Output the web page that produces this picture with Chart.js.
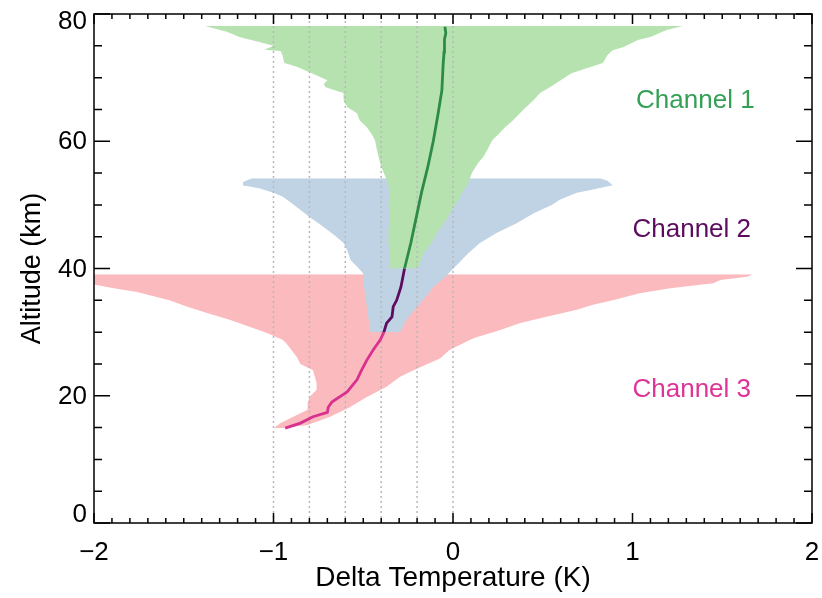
<!DOCTYPE html>
<html>
<head>
<meta charset="utf-8">
<title>Delta Temperature profiles</title>
<script src="https://cdn.jsdelivr.net/npm/chart.js@4.4.0/dist/chart.umd.min.js"></script>
<style>
  html, body { margin: 0; padding: 0; background: #fff; }
  #wrap { width: 822px; height: 598px; }
</style>
</head>
<body>
<div id="wrap"><canvas id="profileChart" width="822" height="598"></canvas></div>
<script>
// axis ticks and reference lines
const xTicks = [-2, -1, 0, 1, 2];
const yTicks = [0, 20, 40, 60, 80];
const refLines = [-1, -0.8, -0.6, -0.4, -0.2, 0];
const channelNames = ['Channel 1', 'Channel 2', 'Channel 3'];

// Channel 1 (40 - 78 km)
const ch1LoAlt = [40, 42, 44, 46, 48, 50, 52, 54, 56, 58.1, 60.2, 61, 62.2, 63.3, 64.4, 65.4, 66.5, 67.6, 68.5, 69, 69.6, 70.6, 71.7, 72.3, 73.5, 74.2, 74.4, 75, 75.6, 76.4, 77.2, 77.8, 78.1];
const ch1Lo    = [-0.355, -0.35, -0.36, -0.36, -0.35, -0.36, -0.35, -0.37, -0.40, -0.42, -0.435, -0.45, -0.48, -0.52, -0.535, -0.59, -0.61, -0.61, -0.71, -0.72, -0.70, -0.78, -0.87, -0.94, -0.95, -0.96, -1.05, -1.00, -1.08, -1.19, -1.26, -1.34, -1.38];
const ch1HiAlt = [40, 41.2, 42.4, 44, 45.6, 47.1, 48.7, 50.3, 51.9, 53.2, 54.2, 55, 56.6, 57.6, 58.6, 60.2, 61.3, 62.2, 63.3, 64.9, 66.5, 67.6, 68.5, 69.6, 70.7, 71.7, 72.3, 73.5, 74.3, 74.8, 75.9, 76.4, 77.5, 78.1];
const ch1Hi    = [-0.195, -0.18, -0.165, -0.12, -0.09, -0.05, -0.017, 0.02, 0.05, 0.08, 0.095, 0.105, 0.14, 0.17, 0.19, 0.22, 0.26, 0.29, 0.335, 0.39, 0.45, 0.485, 0.54, 0.60, 0.66, 0.77, 0.835, 0.86, 0.89, 0.95, 1.03, 1.10, 1.19, 1.28];
const ch1MeanAlt = [40, 44, 48, 52, 56, 60, 64, 68, 72, 74, 75, 76, 77, 78];
const ch1Mean    = [-0.27, -0.235, -0.205, -0.175, -0.14, -0.11, -0.085, -0.062, -0.055, -0.05, -0.045, -0.05, -0.04, -0.045];

// Channel 2 (30 - 54 km)
const ch2LoAlt = [30, 32, 34, 36, 38, 39.2, 40.3, 41.3, 42.9, 44, 45, 46.1, 47.1, 48.1, 49.2, 50.3, 51.3, 51.9, 52.6, 53.1, 53.6, 54.2];
const ch2Lo    = [-0.46, -0.47, -0.48, -0.49, -0.50, -0.50, -0.535, -0.57, -0.59, -0.61, -0.65, -0.70, -0.75, -0.80, -0.85, -0.90, -0.95, -1.0, -1.08, -1.175, -1.17, -1.12];
const ch2HiAlt = [30, 31.9, 33.3, 34.6, 36, 37.1, 38.5, 39.8, 40.8, 42.4, 44, 45.6, 47.1, 48.7, 50, 50.8, 51.9, 52.3, 53.1, 53.8, 54.2];
const ch2Hi    = [-0.295, -0.26, -0.22, -0.18, -0.14, -0.11, -0.05, -0.005, 0.03, 0.085, 0.15, 0.245, 0.355, 0.45, 0.55, 0.595, 0.69, 0.76, 0.89, 0.86, 0.82];
const ch2MeanAlt = [30, 31.4, 32.4, 34, 35, 37.1, 40];
const ch2Mean    = [-0.385, -0.37, -0.34, -0.333, -0.314, -0.29, -0.27];

// Channel 3 (15 - 39 km)
const ch3LoAlt = [14.9, 15.7, 16.7, 17.8, 18.8, 19.8, 20.9, 22, 24, 25, 26.1, 27.2, 28.3, 28.8, 29.9, 30.8, 31.9, 33, 34, 35, 35.8, 36.3, 36.9, 37.5, 38, 39.1];
const ch3Lo    = [-1.0, -0.96, -0.89, -0.81, -0.81, -0.80, -0.76, -0.76, -0.78, -0.85, -0.87, -0.90, -0.93, -0.95, -1.04, -1.13, -1.24, -1.37, -1.48, -1.58, -1.69, -1.76, -1.89, -2.0, -2.1, -2.1];
const ch3HiAlt = [14.9, 15.4, 16.7, 18.2, 19.8, 21.4, 23, 24, 25.9, 27.2, 28.3, 28.8, 29.2, 30.3, 31.4, 32.4, 33.5, 34.3, 35, 36.1, 36.9, 37.7, 38.2, 38.7, 39.1];
const ch3Hi    = [-0.96, -0.81, -0.685, -0.575, -0.48, -0.37, -0.295, -0.22, -0.07, -0.02, 0.06, 0.095, 0.13, 0.26, 0.37, 0.52, 0.69, 0.78, 0.89, 1.04, 1.21, 1.45, 1.49, 1.64, 1.67];
const ch3MeanAlt = [14.9, 15.7, 16.7, 17.4, 18.2, 19, 20.6, 22.5, 24, 25.6, 27.2, 28.8, 30];
const ch3Mean    = [-0.935, -0.85, -0.78, -0.70, -0.695, -0.675, -0.59, -0.535, -0.51, -0.48, -0.445, -0.405, -0.385];

const FONT = '"Liberation Sans", Arial, Helvetica, sans-serif';

function toPoints(xs, alts) {
    return xs.map((v, i) => ({ x: v, y: alts[i] }));
}

const datasets = [];

// mean profiles (on top)
function addMean(xs, alts, color) {
    datasets.push({
        data: toPoints(xs, alts), indexAxis: 'y',
        borderColor: color, borderWidth: 2.8, pointRadius: 0, fill: false, order: 0
    });
}
addMean(ch1Mean, ch1MeanAlt, '#2e8b47');
addMean(ch2Mean, ch2MeanAlt, '#5c0b5e');
addMean(ch3Mean, ch3MeanAlt, '#d9318f');

// dotted reference lines
refLines.forEach(v => {
    datasets.push({
        data: [{ x: v, y: 0 }, { x: v, y: 80 }], indexAxis: 'y',
        borderColor: '#b8b8b8', borderWidth: 1.5, borderDash: [2, 3],
        pointRadius: 0, fill: false, order: 1
    });
});

// spread envelopes: left edge filled to right edge
function addEnvelope(lo, loAlt, hi, hiAlt, color, order) {
    const idx = datasets.length;
    datasets.push({
        data: toPoints(lo, loAlt), indexAxis: 'y',
        borderWidth: 0, borderColor: 'transparent', pointRadius: 0,
        backgroundColor: color, fill: { target: idx + 1 }, order: order
    });
    datasets.push({
        data: toPoints(hi, hiAlt), indexAxis: 'y',
        borderWidth: 0, borderColor: 'transparent', pointRadius: 0,
        fill: false, order: order
    });
}
addEnvelope(ch1Lo, ch1LoAlt, ch1Hi, ch1HiAlt, '#b6e2b0', 2);
addEnvelope(ch2Lo, ch2LoAlt, ch2Hi, ch2HiAlt, '#c0d3e5', 3);
addEnvelope(ch3Lo, ch3LoAlt, ch3Hi, ch3HiAlt, '#fbbabd', 4);

// frame, inward ticks, y labels, channel labels
const framePlugin = {
    id: 'framePlugin',
    afterDraw(chart) {
        const { ctx, chartArea: a, scales: { x, y } } = chart;
        ctx.save();
        ctx.strokeStyle = '#000';
        ctx.lineWidth = 1.5;
        ctx.strokeRect(a.left, a.top, a.right - a.left, a.bottom - a.top);
        ctx.beginPath();
        for (let i = -20; i <= 20; i++) {
            const px = x.getPixelForValue(i / 10);
            const len = i % 10 === 0 ? 10 : 5;
            ctx.moveTo(px, a.bottom); ctx.lineTo(px, a.bottom - len);
            ctx.moveTo(px, a.top); ctx.lineTo(px, a.top + len);
        }
        for (let v = 0; v <= 80; v += 5) {
            const py = y.getPixelForValue(v);
            const len = v % 20 === 0 ? 16 : 8;
            ctx.moveTo(a.left, py); ctx.lineTo(a.left + len, py);
            ctx.moveTo(a.right, py); ctx.lineTo(a.right - len, py);
        }
        ctx.stroke();

        // y tick labels, end labels kept inside the axis like the original
        ctx.fillStyle = '#000';
        ctx.font = '26px ' + FONT;
        ctx.textAlign = 'right';
        ctx.textBaseline = 'middle';
        yTicks.forEach(v => {
            let py = y.getPixelForValue(v);
            py = Math.min(Math.max(py, a.top + 7), a.bottom - 9);
            ctx.fillText(String(v), a.left - 7, py + 1);
        });

        // channel labels
        const labelColors = ['#34a055', '#5c0b5e', '#dd3497'];
        const labelAlt = [65.2, 44.9, 19.8];
        ctx.textAlign = 'left';
        ctx.textBaseline = 'alphabetic';
        channelNames.forEach((name, i) => {
            ctx.fillStyle = labelColors[i];
            ctx.fillText(name, x.getPixelForValue(i === 0 ? 1.02 : 1.0), y.getPixelForValue(labelAlt[i]));
        });
        ctx.restore();
    }
};

const profileChart = new Chart(document.getElementById('profileChart'), {
    type: 'line',
    data: { datasets: datasets },
    options: {
        responsive: false,
        animation: false,
        devicePixelRatio: 1,
        layout: { padding: 0 },
        plugins: {
            legend: { display: false },
            tooltip: { enabled: false }
        },
        elements: { line: { tension: 0 } },
        scales: {
            x: {
                type: 'linear', min: -2, max: 2,
                afterBuildTicks: s => { s.ticks = xTicks.map(v => ({ value: v })); },
                afterFit: s => { s.height = 75; s.paddingLeft = 0; s.paddingRight = 10; },
                grid: { display: false },
                border: { display: false },
                ticks: {
                    color: '#000', padding: 6,
                    font: { family: FONT, size: 26 },
                    callback: v => (v < 0 ? '\u2212' + Math.abs(v) : String(v))
                },
                title: {
                    display: true, text: 'Delta Temperature (K)', color: '#000',
                    font: { family: FONT, size: 28 },
                    padding: { top: 3, bottom: 3 }
                }
            },
            y: {
                type: 'linear', min: 0, max: 80,
                afterBuildTicks: s => { s.ticks = yTicks.map(v => ({ value: v })); },
                afterFit: s => { s.width = 94; s.paddingTop = 14; s.paddingBottom = 0; },
                grid: { display: false },
                border: { display: false },
                ticks: { display: false },
                title: {
                    display: true, text: 'Altitude (km)', color: '#000',
                    font: { family: FONT, size: 27 },
                    padding: { top: 16, bottom: 16 }
                }
            }
        }
    },
    plugins: [framePlugin]
});
</script>
</body>
</html>
